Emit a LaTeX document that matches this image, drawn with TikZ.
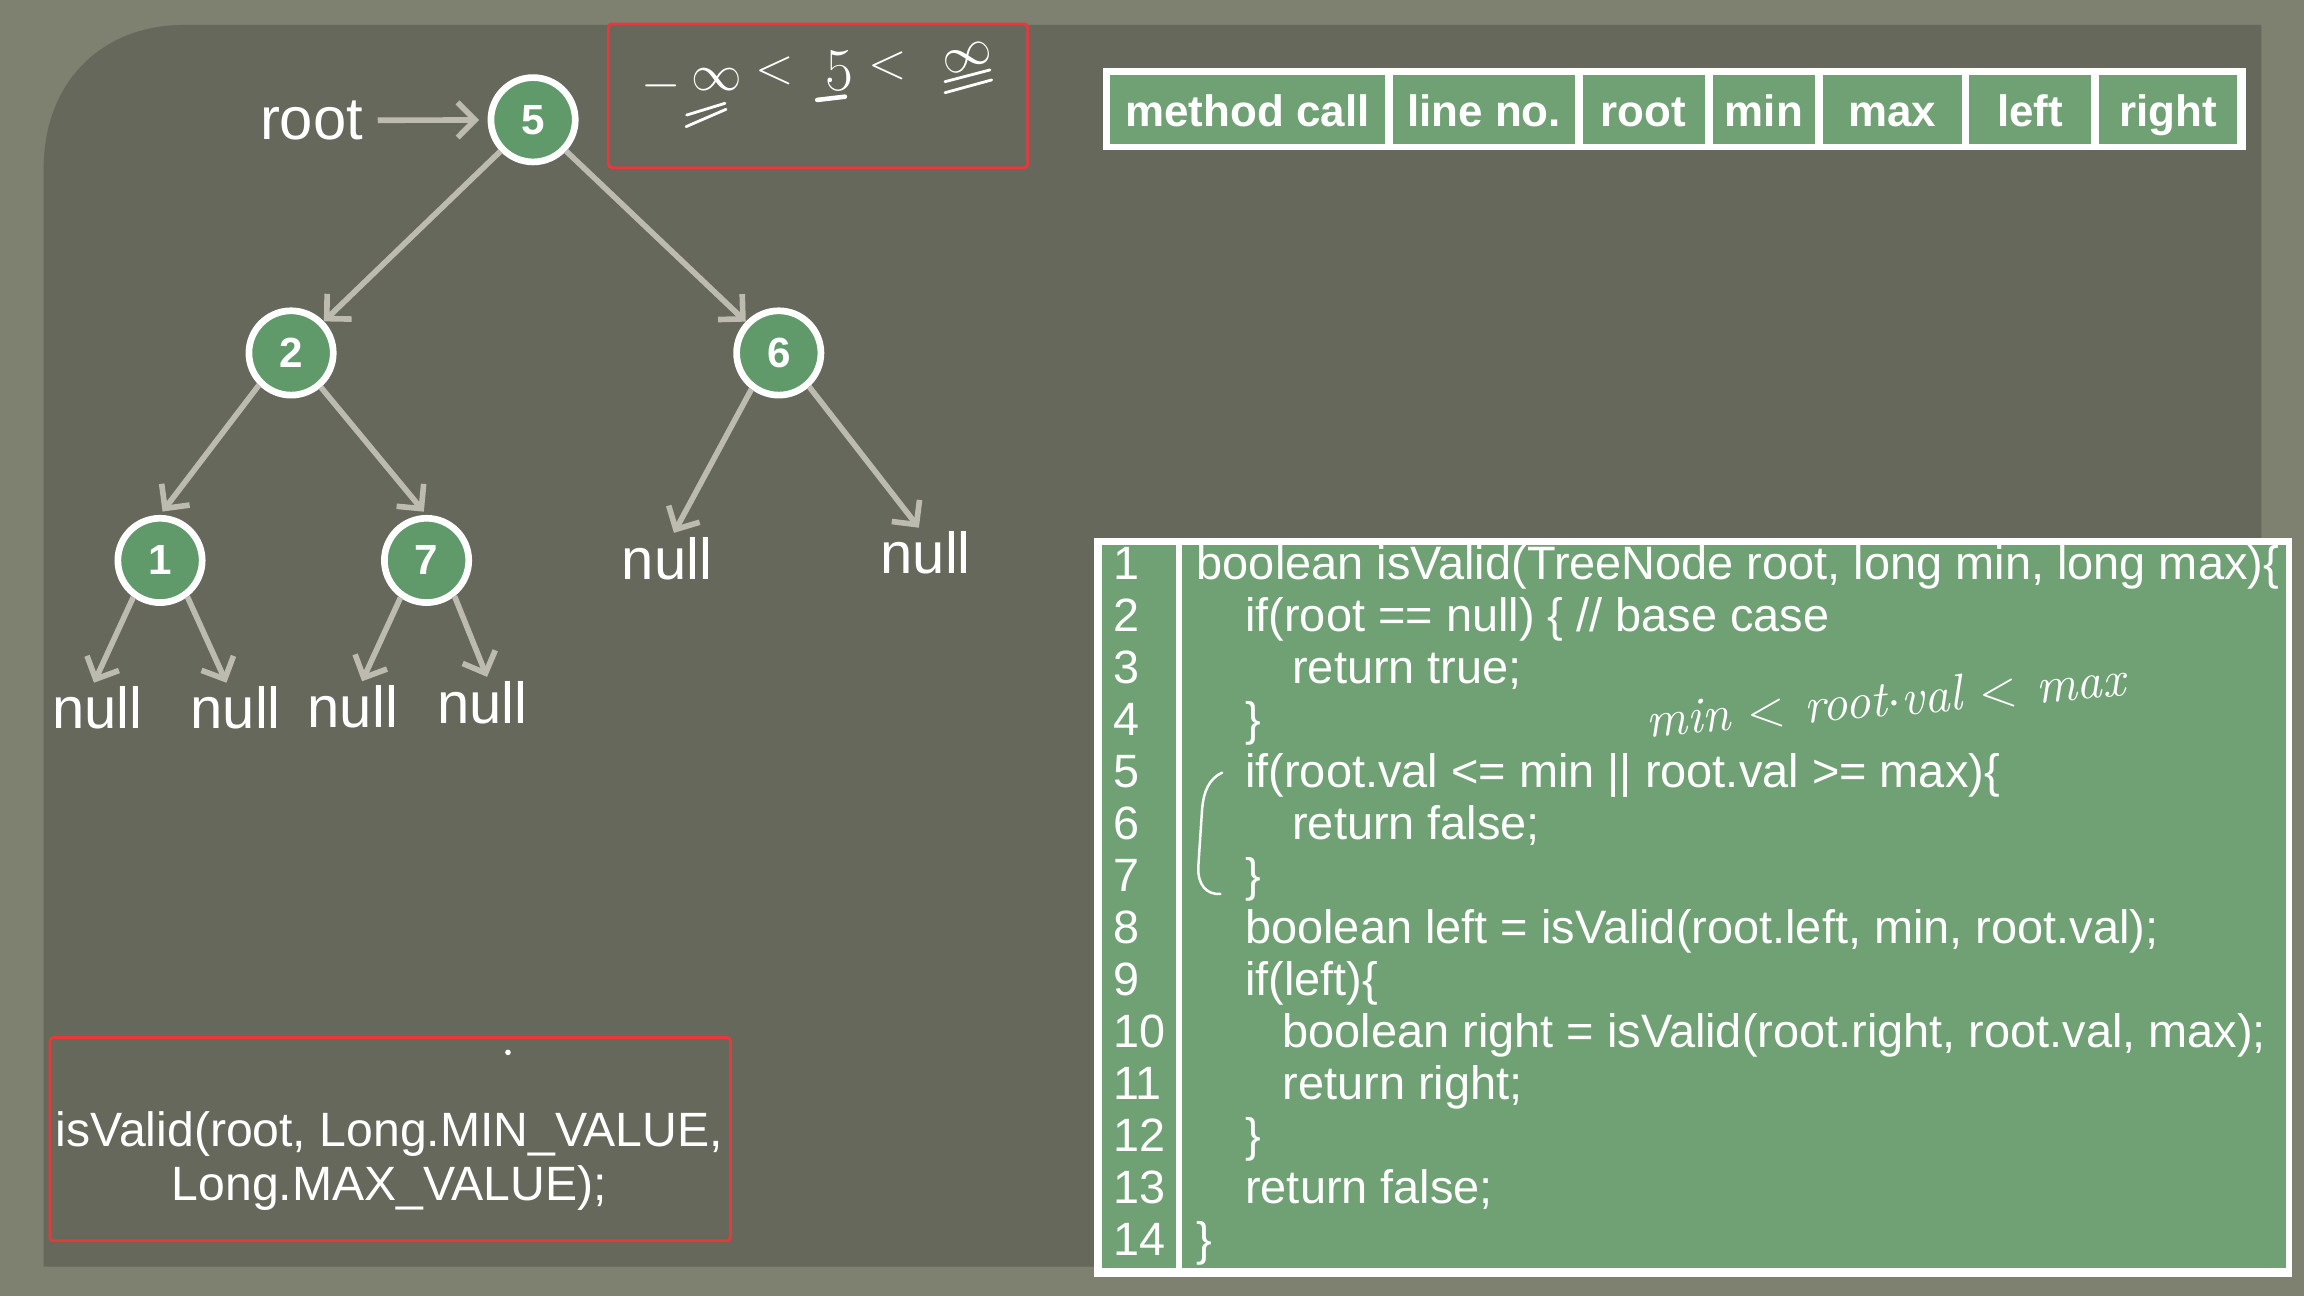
\documentclass[tikz,border=0pt]{standalone}
\usepackage{fontspec}
\setsansfont{Liberation Sans}
\usetikzlibrary{arrows.meta,positioning}

\definecolor{outerbg}{HTML}{7E8170}
\definecolor{panelbg}{HTML}{65685A}
\definecolor{treegreen}{HTML}{609A6B}
\definecolor{cellgreen}{HTML}{70A174}
\definecolor{edgegrey}{HTML}{BDBBB0}
\definecolor{markred}{HTML}{E8383B}

\tikzset{
  treenode/.style={circle, draw=white, line width=1.9pt, fill=treegreen, minimum size=24pt,
    inner sep=0pt, text=white, font=\sffamily\bfseries\fontsize{12}{14}\selectfont},
  nulltext/.style={text=white, inner sep=1pt, font=\sffamily\fontsize{16.5}{18}\selectfont},
  edge/.style={draw=edgegrey, line width=1.6pt, -{Straight Barb[length=5pt,width=10pt]}},
  hdrtext/.style={text=white, anchor=base, inner sep=0pt, font=\sffamily\bfseries\fontsize{12.5}{14}\selectfont},
  lineno/.style={text=white, anchor=base west, inner sep=0pt, font=\sffamily\fontsize{13.3}{15}\selectfont},
  codeline/.style={text=white, anchor=base west, inner sep=0pt, font=\sffamily\fontsize{13.35}{15}\selectfont},
  calltext/.style={text=white, anchor=base, inner sep=0pt, font=\sffamily\fontsize{13.7}{15}\selectfont},
  redbox/.style={draw=markred, line width=0.8pt, rounded corners=1pt},
  hand/.style={draw=white, line width=0.8pt, line cap=round},
  handtext/.style={text=white, inner sep=0pt, font=\fontsize{14}{14}\selectfont},
}

\begin{document}
\begin{tikzpicture}[x=0.0146939cm, y=-0.0146939cm]

% background and panel
\fill[outerbg] (0,0) rectangle (1568,882);
\useasboundingbox (0,0) rectangle (1568,882);
\fill[panelbg] (29.7,862) -- (29.7,115) .. controls (29.7,55) and (70,17) .. (125,17)
  -- (1539,17) -- (1539,862) -- cycle;

% red boxes
\draw[redbox] (414,16.3) rectangle (699.4,114.1);
\draw[redbox] (34,706) rectangle (497.1,844.4);

% handwritten bounds
\node[handtext] (minus) at (450,58.6) {$-$};
\node[handtext] (inflo) at (488,54) {$\infty$};
\node[handtext] (lt1) at (527,48) {$<$};
\node[handtext, font=\fontsize{16}{16}\selectfont] (five) at (571,48) {$5$};
\node[handtext] (lt2) at (604,45) {$<$};
\node[handtext, rotate=20] (infhi) at (658.5,39) {$\infty$};
\draw[hand] (467.3,78.3) -- (493.4,70.3);
\draw[hand] (466.9,86.2) -- (494.1,74.4);
\draw[hand, line width=1.3pt] (556.2,68) -- (575,65.8);
\draw[hand] (643.1,55.6) -- (673.7,47.6);
\draw[hand] (643.1,63.1) -- (674.9,54.4);

% header table
\fill[white] (750.4,46.3) rectangle (1528.6,102);
\foreach \l/\r/\txt [count=\i] in {755.5/942.4/method call, 948/1071.9/line no.,
    1077/1160/root, 1165.6/1235.3/min, 1240.4/1335.2/max, 1340.3/1422.7/left, 1428.3/1522.6/right}
{
  \fill[cellgreen] (\l,51) rectangle (\r,98);
  \node[hdrtext] (head\i) at ({(\l+\r)/2},86.2) {\txt};
}

% code panel
\fill[white] (744.6,366) rectangle (1559.6,868.9);
\fill[cellgreen] (750,371) rectangle (800,863);
\fill[cellgreen] (804.5,371) rectangle (1556,863);
\foreach \n in {1,...,14}
  \node[lineno] (ln\n) at (757,{394.7+(\n-1)*35.35}) {\n};

\node[codeline] (c1) at (814,394.7) {boolean isValid(TreeNode root, long min, long max)\{};
\node[codeline] (c2) at (847,430.05) {if(root == null) \{ // base case};
\node[codeline] (c3) at (879,465.4) {return true;};
\node[codeline] (c4) at (847,500.75) {\}};
\node[codeline] (c5) at (847,536.1) {if(root.val <= min || root.val >= max)\{};
\node[codeline] (c6) at (879,571.45) {return false;};
\node[codeline] (c7) at (847,606.8) {\}};
\node[codeline] (c8) at (847,642.15) {boolean left = isValid(root.left, min, root.val);};
\node[codeline] (c9) at (847,677.5) {if(left)\{};
\node[codeline] (c10) at (872.4,712.85) {boolean right = isValid(root.right, root.val, max);};
\node[codeline] (c11) at (872.4,748.2) {return right;};
\node[codeline] (c12) at (847,783.55) {\}};
\node[codeline] (c13) at (847,818.9) {return false;};
\node[codeline] (c14) at (814,854.25) {\}};

% handwritten note and brace
\node[handtext, rotate=5, font=\itshape\fontsize{14.5}{14.5}\selectfont] (cond) at (1283,476)
  {min $<$ root$\cdot$val $<$ max};
\draw[hand, line width=0.7pt] (831.7,525.8) .. controls (823,530) and (819,538) .. (818,552)
  -- (815.5,590) .. controls (815,602) and (821,609) .. (830.6,608.4);

% tree
\node[nulltext, font=\sffamily\fontsize{17}{18}\selectfont] (rootlbl) at (212,82) {root};
\node[treenode] (n5) at (362.8,81.5) {5};
\node[treenode] (n2) at (198.1,240.2) {2};
\node[treenode] (n6) at (530,240.2) {6};
\node[treenode] (n1) at (108.9,381.4) {1};
\node[treenode] (n7) at (290.3,381.4) {7};
\node[nulltext] (nl6a) at (454,380) {null};
\node[nulltext] (nl6b) at (630,376.5) {null};
\node[nulltext] (nl1a) at (66.4,482) {null};
\node[nulltext] (nl1b) at (160.4,482) {null};
\node[nulltext] (nl7a) at (240.1,481) {null};
\node[nulltext] (nl7b) at (328.4,478) {null};

\draw[edge, shorten <=3pt, shorten >=2.4pt] (rootlbl) -- (n5);
\draw[edge] (n5) -- (n2);
\draw[edge] (n5) -- (n6);
\draw[edge, shorten >=1.2pt] (n2.225) -- (n1.north);
\draw[edge, shorten >=1.2pt] (n2.311) -- (n7.north);
\draw[edge] (n6.233) -- (nl6a.75);
\draw[edge] (n6.312) -- (nl6b.105);
\draw[edge] (n1.234) -- (nl1a.98);
\draw[edge] (n1.307) -- (nl1b.110);
\draw[edge] (n7.235) -- (nl7a.70);
\draw[edge] (n7.308) -- (nl7b.80);

% initial call
\fill[white] (345.7,716.2) circle (0.8pt);
\node[calltext] (call1) at (265,780.4) {isValid(root, Long.MIN\_VALUE,};
\node[calltext] (call2) at (265,816.7) {Long.MAX\_VALUE);};

\end{tikzpicture}
\end{document}
